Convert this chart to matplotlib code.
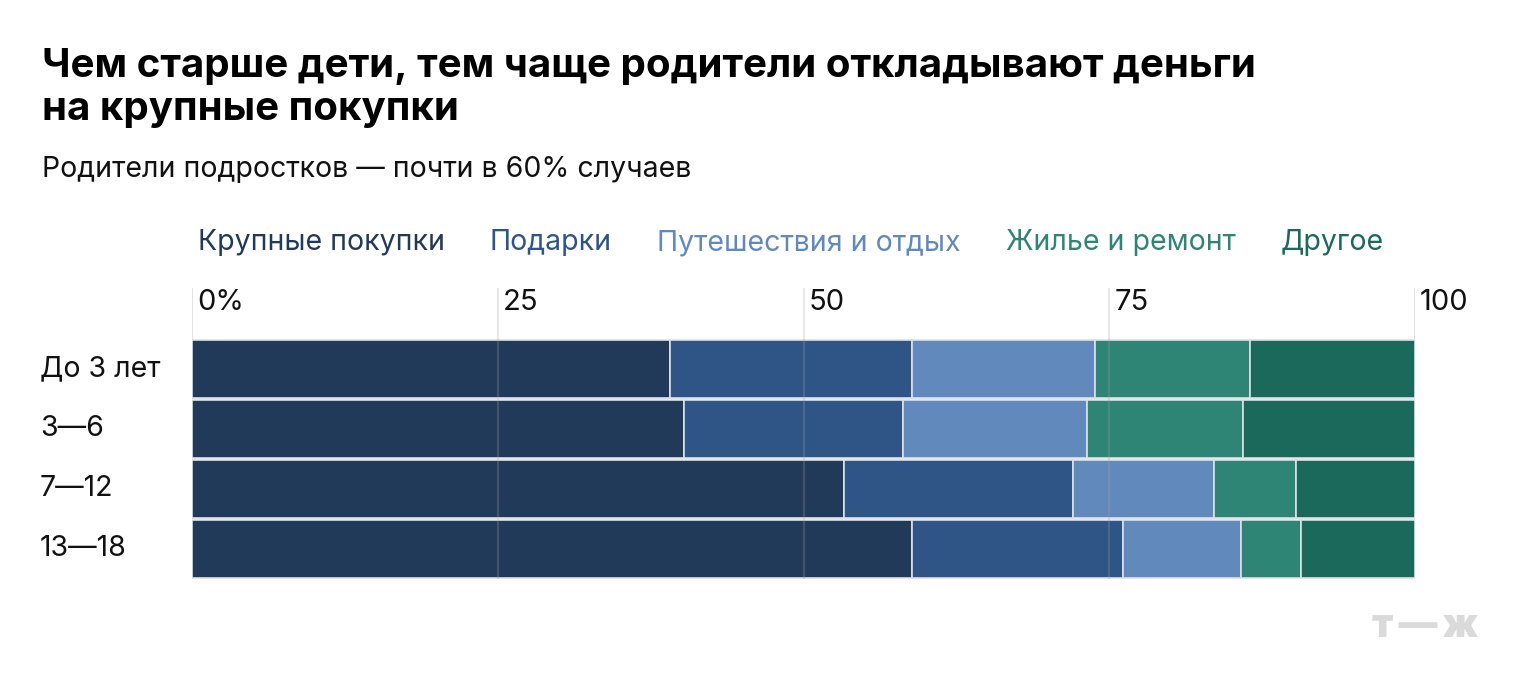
import matplotlib
matplotlib.use("Agg")
import matplotlib.pyplot as plt
import matplotlib.transforms as mtransforms

plt.rcParams['font.family'] = ['Inter', 'DejaVu Sans']

# данные
ages = ["До 3 лет", "3—6", "7—12", "13—18"]
categories = ["Крупные покупки", "Подарки", "Путешествия и отдых", "Жилье и ремонт", "Другое"]
colors = ["#213a5a", "#2f5587", "#6189bb", "#2f8575", "#1b695b"]

big_purchases = [39.1, 40.2, 53.3, 58.9]
gifts = [19.8, 17.9, 18.7, 17.2]
travel = [14.9, 15.1, 11.6, 9.7]
housing = [12.7, 12.7, 6.7, 4.9]
other = [13.5, 14.1, 9.7, 9.3]
series = [big_purchases, gifts, travel, housing, other]

ticks = [0, 25, 50, 75, 100]
tick_labels = ["0%", "25", "50", "75", "100"]

W, H = 1520, 700
fig = plt.figure(figsize=(W / 100, H / 100), dpi=100)
fig.patch.set_facecolor("white")

ax = fig.add_axes([192 / W, 1 - 579 / H, 1223 / W, (579 - 288) / H])

rows = list(range(len(ages)))
left = [0] * len(ages)
for vals, col in zip(series, colors):
    ax.barh(rows, vals, left=left, height=0.97, color=col,
            edgecolor="#dde1e6", linewidth=1.2, zorder=2)
    left = [l + v for l, v in zip(left, vals)]

ax.set_xlim(0, 100)
ax.set_ylim(3.5, -1.35)
for s in ax.spines.values():
    s.set_visible(False)
ax.set_xticks([])
ax.set_yticks([])

# сетка
for t, lab in zip(ticks, tick_labels):
    if t in (0, 100):
        ax.axvline(t, color="#e3e3e3", lw=1.5, zorder=1)
    else:
        ax.axvline(t, color="#a0a2aa", alpha=0.25, lw=1.5, zorder=3)
    ax.annotate(lab, xy=(t, 1), xycoords=("data", "axes fraction"),
                xytext=(3.6, -0.5), textcoords="offset points",
                ha="left", va="top", fontsize=21, color="#111111")

# подписи строк
trans = mtransforms.blended_transform_factory(fig.transFigure, ax.transData)
for r, name in zip(rows, ages):
    ax.text(40 / W, r, name, transform=trans, ha="left", va="center",
            fontsize=20.5, color="#111111")

# заголовок
fig.text(42 / W, 1 - 77 / H, "Чем старше дети, тем чаще родители откладывают деньги",
         fontsize=29, fontweight="bold", color="#000000", va="baseline")
fig.text(42 / W, 1 - 120 / H, "на крупные покупки",
         fontsize=29, fontweight="bold", color="#000000", va="baseline")
fig.text(42 / W, 1 - 177 / H, "Родители подростков — почти в 60% случаев",
         fontsize=20.5, color="#111111", va="baseline")

# легенда
renderer = fig.canvas.get_renderer()
x = 198
for name, col in zip(categories, colors):
    t = fig.text(x / W, 1 - 250 / H, name, fontsize=20.5, color=col, va="baseline")
    bb = t.get_window_extent(renderer)
    x += bb.width + 45

# логотип
fig.text(1478 / W, 1 - 637 / H, "т\u2009—\u2009ж", fontsize=28, fontweight="black",
         color="#dadada", ha="right", va="baseline")

fig.savefig("out.png", dpi=100)
